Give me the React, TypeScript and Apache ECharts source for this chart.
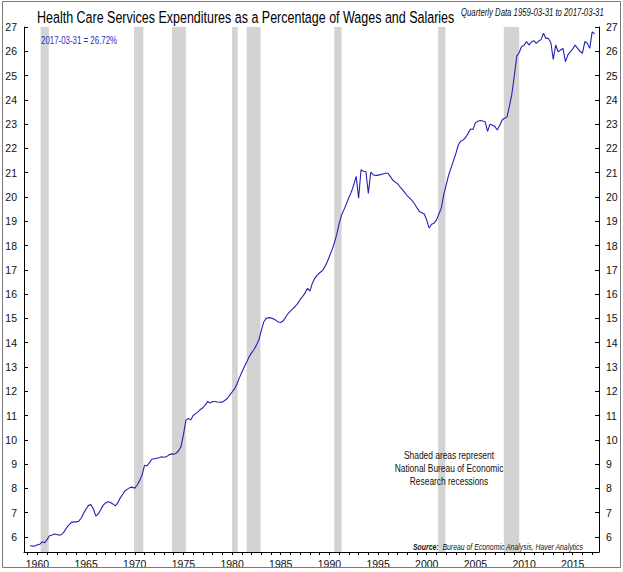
import React, { useEffect, useRef } from "react";
import * as echarts from "echarts";

// Quarterly values (end of quarter), four per year
const start = 1959;
const v1959_1969 = [
  5.65, 5.62, 5.63, 5.68, // 1959
  5.70, 5.80, 5.76, 5.90, // 1960
  6.05, 6.08, 6.12, 6.10, // 1961
  6.07, 6.10, 6.22, 6.38, // 1962
  6.50, 6.60, 6.62, 6.62, // 1963
  6.65, 6.78, 6.98, 7.15, // 1964
  7.30, 7.33, 7.15, 6.86, // 1965
  6.95, 7.12, 7.30, 7.40, // 1966
  7.45, 7.42, 7.36, 7.28, // 1967
  7.40, 7.60, 7.75, 7.90, // 1968
  7.97, 8.03, 8.05, 8.01, // 1969
];
const v1970_1979 = [
  8.14, 8.32, 8.55, 8.95, // 1970
  8.93, 9.05, 9.20, 9.22, // 1971
  9.24, 9.26, 9.30, 9.28, // 1972
  9.30, 9.38, 9.42, 9.41, // 1973
  9.45, 9.55, 9.72, 10.20, // 1974
  10.80, 10.88, 10.82, 11.00, // 1975
  11.08, 11.15, 11.25, 11.32, // 1976
  11.44, 11.58, 11.51, 11.58, // 1977
  11.58, 11.56, 11.55, 11.55, // 1978
  11.62, 11.70, 11.83, 11.97, // 1979
];
const v1980_1989 = [
  12.10, 12.30, 12.55, 12.78, // 1980
  13.00, 13.20, 13.42, 13.58, // 1981
  13.72, 13.90, 14.12, 14.50, // 1982
  14.85, 15.00, 15.03, 15.02, // 1983
  14.98, 14.92, 14.85, 14.83, // 1984
  14.90, 15.05, 15.20, 15.30, // 1985
  15.40, 15.50, 15.62, 15.78, // 1986
  15.90, 16.05, 16.24, 16.12, // 1987
  16.45, 16.65, 16.78, 16.88, // 1988
  16.95, 17.10, 17.30, 17.55, // 1989
];
const v1990_1999 = [
  17.80, 18.10, 18.45, 18.90, // 1990
  19.26, 19.48, 19.72, 19.98, // 1991
  20.20, 20.50, 20.85, 19.95, // 1992
  21.12, 21.06, 21.05, 20.15, // 1993
  21.02, 20.92, 20.88, 20.90, // 1994
  20.92, 20.95, 20.98, 20.98, // 1995
  20.85, 20.70, 20.62, 20.55, // 1996
  20.42, 20.30, 20.18, 20.05, // 1997
  19.95, 19.85, 19.72, 19.55, // 1998
  19.40, 19.35, 19.30, 19.05, // 1999
];
const v2000_2009 = [
  18.72, 18.88, 18.92, 19.05, // 2000
  19.30, 19.55, 20.10, 20.50, // 2001
  20.90, 21.20, 21.50, 21.80, // 2002
  22.15, 22.30, 22.35, 22.45, // 2003
  22.62, 22.80, 22.78, 23.05, // 2004
  23.12, 23.15, 23.13, 23.10, // 2005
  22.70, 23.00, 22.95, 22.90, // 2006
  22.76, 22.95, 23.17, 23.24, // 2007
  23.30, 23.75, 24.25, 25.00, // 2008
  25.80, 25.95, 26.20, 26.25, // 2009
];
const v2010_2017 = [
  26.40, 26.26, 26.38, 26.44, // 2010
  26.33, 26.42, 26.48, 26.74, // 2011
  26.53, 26.53, 26.36, 25.67, // 2012
  26.26, 25.98, 26.05, 26.12, // 2013
  25.57, 25.85, 25.98, 26.10, // 2014
  26.26, 26.12, 26.00, 25.92, // 2015
  26.40, 26.33, 26.12, 26.80, // 2016
  26.72, // 2017
];

// NBER recessions (decimal years)
const recessionStarts = [1960.33, 1969.92, 1973.83, 1980.0, 1981.5, 1990.5, 2001.17, 2007.92];
const recessionEnds = [1961.17, 1970.88, 1975.25, 1980.58, 1982.92, 1991.25, 2001.92, 2009.5];

const yTickLabels = [6, 7, 8, 9, 10, 11, 12, 13, 14, 15, 16, 17, 18, 19, 20, 21, 22, 23, 24, 25, 26, 27];
const xTickLabels = [1960, 1965, 1970, 1975, 1980, 1985, 1990, 1995, 2000, 2005, 2010, 2015];

const FONT = '"Liberation Sans", Arial, sans-serif';
const AXFONT = '"Liberation Sans Narrow", "Liberation Sans", Arial, sans-serif';
const LINE = "#2323b5";

export default function App() {
  const ref = useRef<HTMLDivElement>(null);
  useEffect(() => {
    if (!ref.current) return;
    const chart = echarts.init(ref.current, undefined, { renderer: "svg" });
    const all = [...v1959_1969, ...v1970_1979, ...v1980_1989, ...v1990_1999, ...v2000_2009, ...v2010_2017];
    const data = all.map((v, i) => [start + (i + 1) * 0.25, v]);
    const yearTicks: number[] = [];
    for (let y = 1959; y <= 2017; y++) yearTicks.push(y);
    const yMin = 5.38;
    const yMax = 27;
    const yAxisCommon = {
      type: "value",
      min: yMin,
      max: yMax,
      splitLine: { show: false },
      axisLine: { show: true, onZero: false, lineStyle: { color: "#000", width: 1 } },
      axisTick: { show: true, inside: true, length: 4, customValues: yTickLabels, lineStyle: { color: "#000" } },
    };
    chart.setOption({
      animation: false,
      grid: { left: 24, right: 24, top: 27, bottom: 20, containLabel: false },
      xAxis: {
        type: "value",
        min: 1958.62,
        max: 2017.7,
        splitLine: { show: false },
        axisLine: { show: true, onZero: false, lineStyle: { color: "#000", width: 1 } },
        axisTick: { show: true, length: 3, customValues: yearTicks, lineStyle: { color: "#000" } },
        axisLabel: {
          customValues: xTickLabels,
          formatter: (v: number) => String(Math.round(v)),
          fontSize: 10.5,
          fontFamily: AXFONT,
          color: "#111",
          margin: 6,
        },
      },
      yAxis: [
        {
          ...yAxisCommon,
          position: "left",
          axisLabel: { customValues: yTickLabels, fontSize: 10.5, fontFamily: AXFONT, color: "#111", margin: 7 },
        },
        {
          ...yAxisCommon,
          position: "right",
          axisLabel: { customValues: yTickLabels, fontSize: 10.5, fontFamily: AXFONT, color: "#111", margin: 7 },
        },
      ],
      series: [
        {
          type: "line",
          z: 1,
          data: [],
          markArea: {
            silent: true,
            itemStyle: { color: "#d3d3d3" },
            data: recessionStarts.map((s, i) => [{ xAxis: s }, { xAxis: recessionEnds[i] }]),
          },
        },
        {
          type: "line",
          z: 3,
          data,
          showSymbol: false,
          symbol: "none",
          lineStyle: { color: LINE, width: 1.1 },
        },
      ],
      graphic: [
        {
          type: "rect",
          z: 100,
          shape: { x: 2.5, y: 1.5, width: 618, height: 566 },
          style: { fill: "none", stroke: "#7a7a7a", lineWidth: 1 },
          silent: true,
        },
        {
          type: "text",
          z: 100,
          x: 37,
          y: 17,
          scaleX: 0.735,
          style: {
            text: "Health Care Services Expenditures as a Percentage of Wages and Salaries",
            fontSize: 17,
            fontFamily: FONT,
            fill: "#000",
            align: "left",
            verticalAlign: "middle",
          },
        },
        {
          type: "text",
          z: 100,
          x: 461,
          y: 13,
          scaleX: 0.74,
          style: {
            text: "Quarterly Data 1959-03-31 to 2017-03-31",
            fontSize: 10.5,
            fontStyle: "italic",
            fontFamily: FONT,
            fill: "#111",
            align: "left",
            verticalAlign: "middle",
          },
        },
        {
          type: "text",
          z: 100,
          x: 41,
          y: 41,
          scaleX: 0.79,
          style: {
            text: "2017-03-31 = 26.72%",
            fontSize: 10,
            fontFamily: FONT,
            fill: "#2b2bc4",
            align: "left",
            verticalAlign: "middle",
          },
        },
        {
          type: "text",
          z: 100,
          x: 449,
          y: 449,
          scaleX: 0.8,
          style: {
            text: "Shaded areas represent\nNational Bureau of Economic\nResearch recessions",
            fontSize: 10.5,
            lineHeight: 13,
            fontFamily: FONT,
            fill: "#111",
            align: "center",
            verticalAlign: "top",
          },
        },
        {
          type: "text",
          z: 100,
          x: 413,
          y: 547,
          scaleX: 0.725,
          style: {
            text: "{b|Source:}  Bureau of Economic Analysis, Haver Analytics",
            fontSize: 9.5,
            fontStyle: "italic",
            fontFamily: FONT,
            fill: "#111",
            align: "left",
            verticalAlign: "middle",
            rich: {
              b: { fontSize: 9.5, fontStyle: "italic", fontWeight: "bold", fontFamily: FONT, fill: "#111" },
            },
          },
        },
      ],
    });
    return () => chart.dispose();
  }, []);
  return (
    <div
      ref={ref}
      style={{ position: "absolute", left: 0, top: 0, width: 623, height: 572, background: "#fff" }}
    />
  );
}
